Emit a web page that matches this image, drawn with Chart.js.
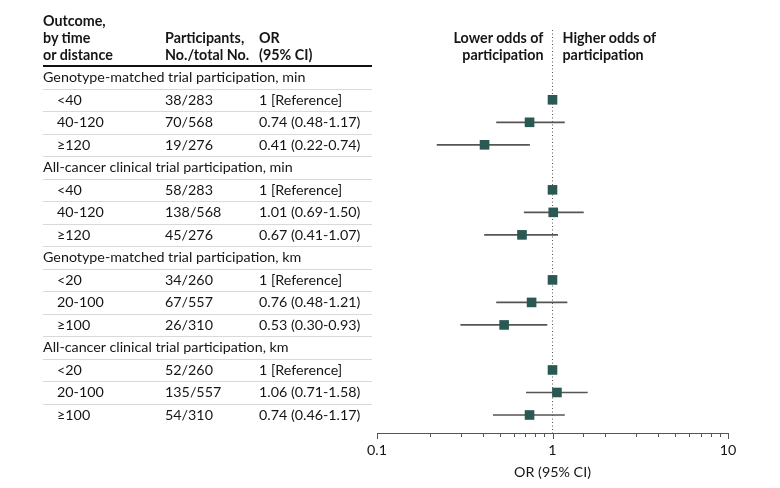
<!DOCTYPE html>
<html>

<head>
    <title>Odds of trial participation by travel time and distance</title>
    <script src="https://cdn.jsdelivr.net/npm/chart.js"></script>
    <style>
        body {
            margin: 0;
            padding: 0;
            background-color: #ffffff;
            font-family: Lato, "Noto Sans", Arial, sans-serif;
            color: #151515;
        }

        .wrap {
            position: relative;
            width: 780px;
            height: 488px;
        }

        #forest {
            position: absolute;
            left: 0;
            top: 0;
        }

        .txt {
            position: absolute;
            font-size: 14.3px;
            line-height: 18px;
            white-space: nowrap;
        }

        .head {
            font-weight: bold;
        }

        .rule {
            position: absolute;
            left: 43px;
            width: 329px;
            height: 0;
            border-top: 1px solid #d9d9d9;
        }

        .rule.dark {
            border-top: 2px solid #111;
        }
    </style>
</head>

<body>
    <div class="wrap" id="wrap">
        <canvas id="forest" width="780" height="488"></canvas>
    </div>

    <script>
        // table / chart data
        const groups = [
            'Genotype-matched trial participation, min',
            'All-cancer clinical trial participation, min',
            'Genotype-matched trial participation, km',
            'All-cancer clinical trial participation, km'
        ];
        const subgroups = [
            ['<40', '40-120', '≥120'],
            ['<40', '40-120', '≥120'],
            ['<20', '20-100', '≥100'],
            ['<20', '20-100', '≥100']
        ];
        const participants = ['38/283', '70/568', '19/276', '58/283', '138/568', '45/276',
            '34/260', '67/557', '26/310', '52/260', '135/557', '54/310'];
        const orValues = [1, 0.74, 0.41, 1, 1.01, 0.67, 1, 0.76, 0.53, 1, 1.06, 0.74];
        const ciLow = [null, 0.48, 0.22, null, 0.69, 0.41, null, 0.48, 0.30, null, 0.71, 0.46];
        const ciHigh = [null, 1.17, 0.74, null, 1.50, 1.07, null, 1.21, 0.93, null, 1.58, 1.17];
        const xTicks = [0.1, 1, 10];

        const headers = [
            { x: 43, lines: ['Outcome,', 'by time', 'or distance'] },
            { x: 165, lines: ['', 'Participants,', 'No./total No.'] },
            { x: 259, lines: ['', 'OR', '(95% CI)'] }
        ];

        // rows: group label row, then its 3 subgroup rows
        const rows = [];
        groups.forEach(function(g, gi) {
            rows.push({ kind: 'group', label: g });
            subgroups[gi].forEach(function(s, si) {
                rows.push({ kind: 'item', label: s, k: gi * 3 + si });
            });
        });

        function orText(k) {
            if (ciLow[k] === null) return orValues[k] + ' [Reference]';
            return orValues[k].toFixed(2) + ' (' + ciLow[k].toFixed(2) + '-' + ciHigh[k].toFixed(2) + ')';
        }

        const pointData = [];
        const ciData = [];
        rows.forEach(function(r, i) {
            if (r.kind !== 'item') return;
            pointData.push({ x: orValues[r.k], y: i });
            if (ciLow[r.k] !== null) ciData.push({ x: [ciLow[r.k], ciHigh[r.k]], y: i });
        });

        const yMin = -2.1;
        const yMax = 15.8;

        // tick marks: major at powers of ten, shorter minor ticks
        const tickMarks = {
            id: 'tickMarks',
            afterDraw: function(chart) {
                const s = chart.scales.x;
                const c = chart.ctx;
                c.save();
                c.strokeStyle = '#555';
                c.lineWidth = 1;
                s.ticks.forEach(function(t) {
                    const lg = Math.log10(t.value);
                    const major = Math.abs(lg - Math.round(lg)) < 1e-6;
                    const px = Math.round(s.getPixelForValue(t.value)) + 0.5;
                    c.beginPath();
                    c.moveTo(px, s.top);
                    c.lineTo(px, s.top + (major ? 6 : 4));
                    c.stroke();
                });
                c.restore();
            }
        };

        const ctx = document.getElementById('forest').getContext('2d');
        const chart = new Chart(ctx, {
            type: 'scatter',
            data: {
                datasets: [{
                    type: 'scatter',
                    data: pointData,
                    pointStyle: 'rect',
                    pointRadius: 6.8,
                    pointHoverRadius: 6.8,
                    backgroundColor: '#2a5853',
                    borderWidth: 0,
                    order: 0
                }, {
                    type: 'bar',
                    indexAxis: 'y',
                    data: ciData,
                    backgroundColor: '#555555',
                    barThickness: 1,
                    borderWidth: 0,
                    xAxisID: 'x',
                    yAxisID: 'y',
                    order: 1
                }, {
                    type: 'line',
                    data: [{ x: 1, y: yMin }, { x: 1, y: yMax }],
                    borderColor: '#555',
                    borderWidth: 1,
                    borderDash: [1, 2.5],
                    pointRadius: 0,
                    order: 2
                }]
            },
            options: {
                responsive: false,
                devicePixelRatio: 1,
                animation: false,
                events: [],
                layout: {
                    padding: { left: 377, right: 52, top: 30, bottom: 0 }
                },
                plugins: {
                    legend: { display: false },
                    tooltip: { enabled: false }
                },
                scales: {
                    x: {
                        type: 'logarithmic',
                        position: 'bottom',
                        min: 0.1,
                        max: 10,
                        offset: false,
                        afterFit: function(scale) { scale.height = 55; },
                        grid: { display: true, drawOnChartArea: false, drawTicks: false, offset: false },
                        border: { display: true, color: '#555', width: 1 },
                        ticks: {
                            autoSkip: false,
                            maxRotation: 0,
                            padding: 9,
                            color: '#151515',
                            font: { family: 'Lato', size: 14.3 },
                            callback: function(v) {
                                const hit = xTicks.find(function(t) { return Math.abs(t - v) < 1e-9; });
                                return hit === undefined ? '' : String(hit);
                            }
                        },
                        title: {
                            display: true,
                            text: 'OR (95% CI)',
                            color: '#151515',
                            font: { family: 'Lato', size: 14.3 },
                            padding: { top: 0, bottom: 7 }
                        }
                    },
                    y: {
                        type: 'linear',
                        reverse: true,
                        min: yMin,
                        max: yMax,
                        offset: false,
                        grid: { offset: false },
                        display: false
                    }
                }
            },
            plugins: [tickMarks]
        });

        // table text placed on the chart's own row positions
        const wrap = document.getElementById('wrap');
        const ys = chart.scales.y;

        function addText(str, x, yc, cls, alignRight) {
            const d = document.createElement('div');
            d.className = 'txt' + (cls ? ' ' + cls : '');
            d.textContent = str;
            d.style.top = (yc - 9) + 'px';
            if (alignRight) {
                d.style.right = (780 - x) + 'px';
            } else {
                d.style.left = x + 'px';
            }
            wrap.appendChild(d);
        }

        function addRule(y, dark) {
            const d = document.createElement('div');
            d.className = 'rule' + (dark ? ' dark' : '');
            d.style.top = y + 'px';
            wrap.appendChild(d);
        }

        const headY = [21, 38, 55];
        headers.forEach(function(h) {
            h.lines.forEach(function(l, li) {
                if (l) addText(l, h.x, headY[li], 'head');
            });
        });
        addRule(65, true);

        const x1 = chart.scales.x.getPixelForValue(1);
        addText('Lower odds of', x1 - 9, 38, 'head', true);
        addText('participation', x1 - 9, 55, 'head', true);
        addText('Higher odds of', x1 + 10, 38, 'head', false);
        addText('participation', x1 + 10, 55, 'head', false);

        rows.forEach(function(r, i) {
            const yc = ys.getPixelForValue(i);
            if (r.kind === 'group') {
                addText(r.label, 43, yc);
            } else {
                addText(r.label, 57, yc);
                addText(participants[r.k], 165, yc);
                addText(orText(r.k), 259, yc);
            }
            if (i < rows.length - 1) {
                addRule(Math.round((yc + ys.getPixelForValue(i + 1)) / 2), false);
            }
        });
    </script>
</body>

</html>
